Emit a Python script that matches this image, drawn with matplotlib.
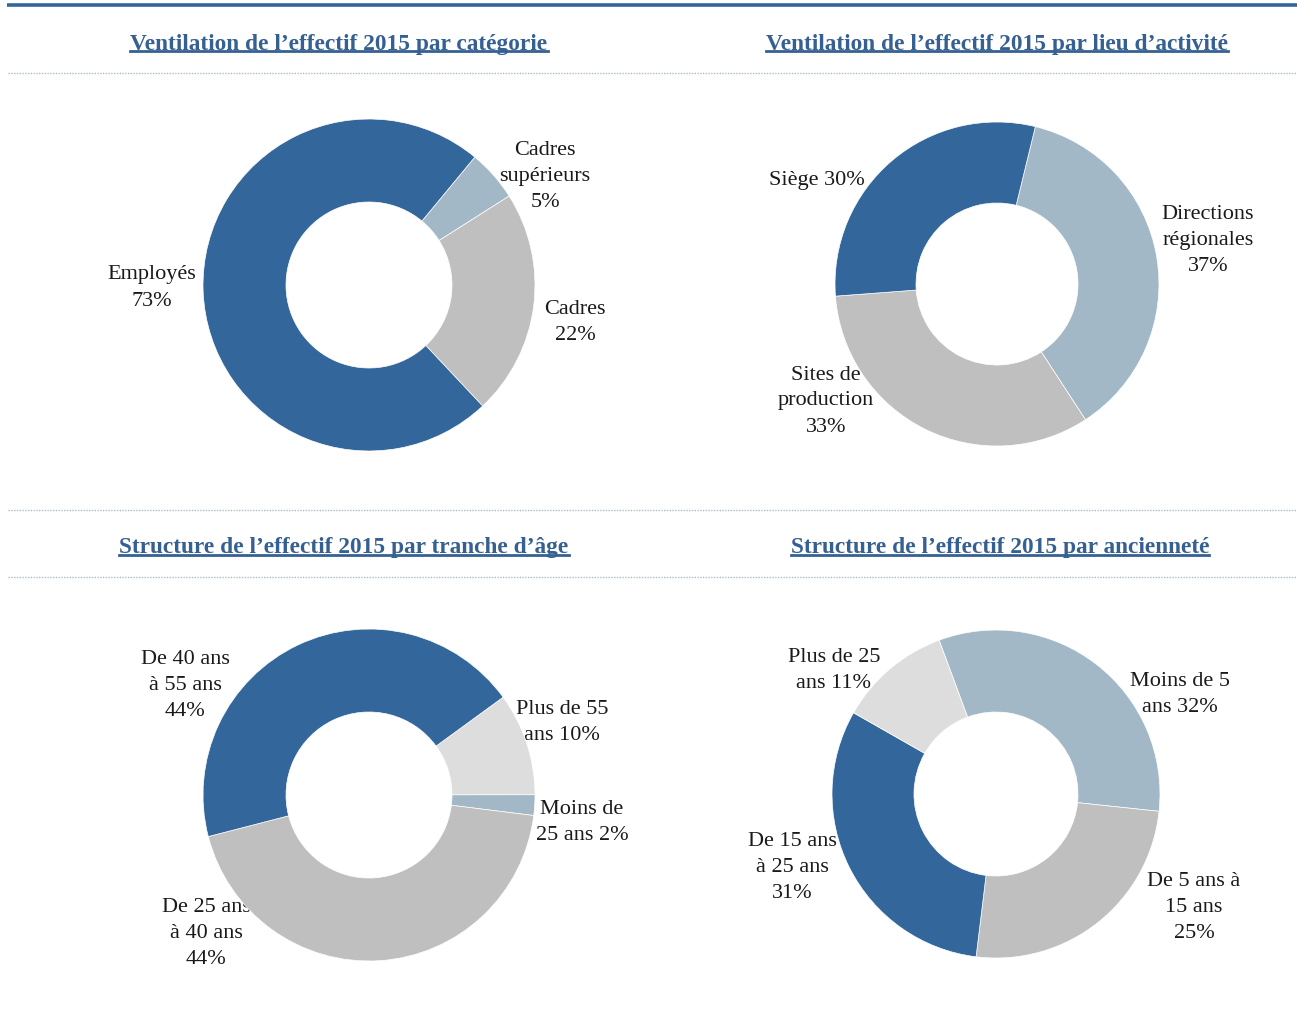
import matplotlib
matplotlib.use("Agg")
import matplotlib.pyplot as plt
from matplotlib.lines import Line2D

W, H = 1297, 1019
DPI = 100

# ---------------- data ----------------
cat_labels = ["Cadres\nsupérieurs\n5%", "Cadres\n22%", "Employés\n73%"]
cat_values = [5, 22, 73]

lieu_labels = ["Directions\nrégionales\n37%", "Sites de\nproduction\n33%", "Siège 30%"]
lieu_values = [37, 33, 30]

age_labels = ["Plus de 55\nans 10%", "Moins de\n25 ans 2%", "De 25 ans\nà 40 ans\n44%", "De 40 ans\nà 55 ans\n44%"]
age_values = [10, 2, 44, 44]

anc_labels = ["Moins de 5\nans 32%", "De 5 ans à\n15 ans\n25%", "De 15 ans\nà 25 ans\n31%", "Plus de 25\nans 11%"]
anc_values = [32, 25, 31, 11]

titles = ["Ventilation de l’effectif 2015 par catégorie",
          "Ventilation de l’effectif 2015 par lieu d’activité",
          "Structure de l’effectif 2015 par tranche d’âge",
          "Structure de l’effectif 2015 par ancienneté"]

# ---------------- styles ----------------
DARK = "#33669a"
LBLUE = "#a2b8c6"
GRAY = "#bfbfbf"
LGRAY = "#dddddd"
TITLE_C = "#366092"
FONT = "Liberation Serif"

cat_colors = [LBLUE, GRAY, DARK]
lieu_colors = [LBLUE, GRAY, DARK]
age_colors = [LGRAY, LBLUE, GRAY, DARK]
anc_colors = [LBLUE, GRAY, DARK, LGRAY]

fig = plt.figure(figsize=(W / DPI, H / DPI), dpi=DPI)

# overlay axes in pixel coordinates (origin top-left)
ov = fig.add_axes([0, 0, 1, 1])
ov.set_xlim(0, W)
ov.set_ylim(H, 0)
ov.axis("off")

ov.plot([7, W], [5, 5], color=DARK, lw=2.6, solid_capstyle="butt")
for y in [73, 510, 577]:
    ov.plot([8, W], [y, y], color="#a9bccd", lw=1.0, ls=(0, (1, 1)))

title_pos = [(339, 44), (997, 44), (344, 548), (1000, 548)]
title_objs = []
for t, (x, y) in zip(titles, title_pos):
    tx = ov.text(x, y, t, ha="center", va="center", fontsize=16.8,
                 fontweight="bold", color=TITLE_C, family=FONT)
    title_objs.append(tx)


def donut(cx, cy, R, values, colors, labels, label_pos, start):
    ax = fig.add_axes([(cx - R) / W, (H - cy - R) / H, 2 * R / W, 2 * R / H])
    ax.pie(values, colors=colors, startangle=start, counterclock=False,
           radius=1.0, wedgeprops=dict(width=0.5, edgecolor="white", linewidth=0.5))
    ax.set_xlim(-1, 1)
    ax.set_ylim(-1, 1)
    ax.set_aspect("equal")
    ax.axis("off")
    for lab, (lx, ly) in zip(labels, label_pos):
        ov.text(lx, ly, lab, ha="center", va="center", fontsize=16,
                family=FONT, color="#1a1a1a", linespacing=1.5)


donut(369, 285, 166, cat_values, cat_colors, cat_labels,
      [(545, 176), (575, 322), (152, 288)], 50.4)
donut(997, 284, 162, lieu_values, lieu_colors, lieu_labels,
      [(1208, 240), (826, 401), (817, 180)], 76.3)
donut(369, 795, 166, age_values, age_colors, age_labels,
      [(562, 722), (582, 823), (206, 934), (185, 686)], 36.1)
donut(996, 794, 164, anc_values, anc_colors, anc_labels,
      [(1180, 694), (1194, 907), (792, 867), (834, 671)], 110.3)

# underline titles
fig.canvas.draw()
r = fig.canvas.get_renderer()
for tx in title_objs:
    bb = tx.get_window_extent(r)
    x0, x1 = bb.x0, bb.x1
    ypix = H - bb.y0
    ov.add_line(Line2D([x0, x1], [ypix - 4, ypix - 4], color=TITLE_C, lw=2.0))

fig.savefig("out.png", dpi=DPI)
